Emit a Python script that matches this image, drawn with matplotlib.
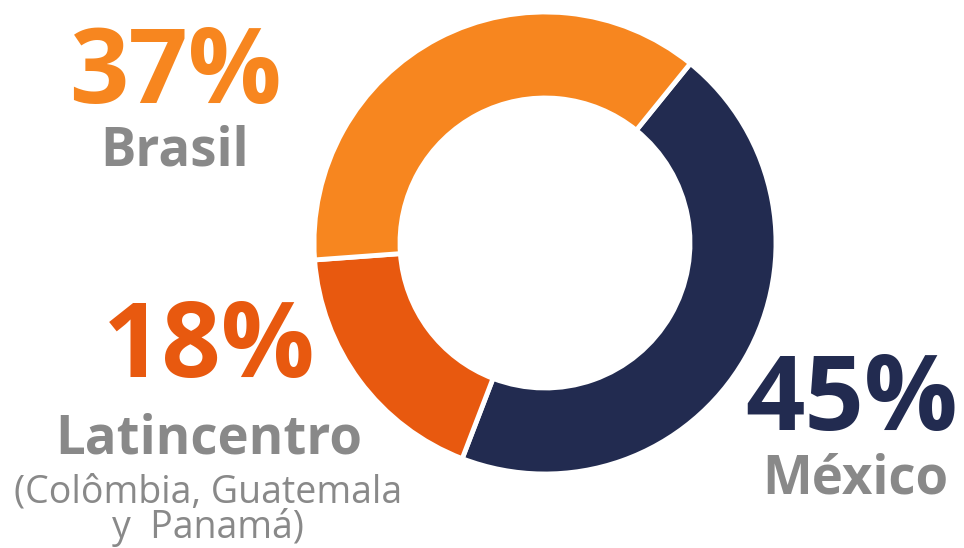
import matplotlib.pyplot as plt

labels = ["México", "Latincentro", "Brasil"]
shares = [45, 18, 37]
colors = ["#222B50", "#E8590F", "#F7861F"]
grey = "#898989"

W, H = 964, 548

fig = plt.figure(figsize=(W / 100, H / 100), dpi=100)
ax = fig.add_axes([0, 0, 1, 1])
ax.set_xlim(0, W)
ax.set_ylim(0, H)
ax.set_aspect("equal")
ax.axis("off")

ax.pie(shares, colors=colors, startangle=51, counterclock=False,
       center=(545, H - 243), radius=231,
       wedgeprops=dict(width=86, edgecolor="white", linewidth=3.5))
ax.set_xlim(0, W)
ax.set_ylim(0, H)

big = dict(family="Open Sans", fontweight="bold", fontsize=75, ha="center", va="baseline")
name = dict(family="Open Sans", fontweight="bold", fontsize=38, ha="center", va="baseline", color=grey)
small = dict(family="Open Sans", fontsize=27, ha="center", va="baseline", color=grey)

# Brasil
ax.text(175, H - 103, f"{shares[2]}%", color=colors[2], **big)
ax.text(175, H - 165, labels[2], **name)

# Latincentro
ax.text(209, H - 377, f"{shares[1]}%", color=colors[1], **big)
ax.text(209, H - 453, labels[1], **name)
ax.text(208, H - 502, "(Colômbia, Guatemala", **small)
ax.text(208, H - 538, "y  Panamá)", **small)

# México
ax.text(852, H - 430, f"{shares[0]}%", color=colors[0], **big)
ax.text(855, H - 493, labels[0], **name)

fig.savefig("out.png", dpi=100, facecolor="white")
